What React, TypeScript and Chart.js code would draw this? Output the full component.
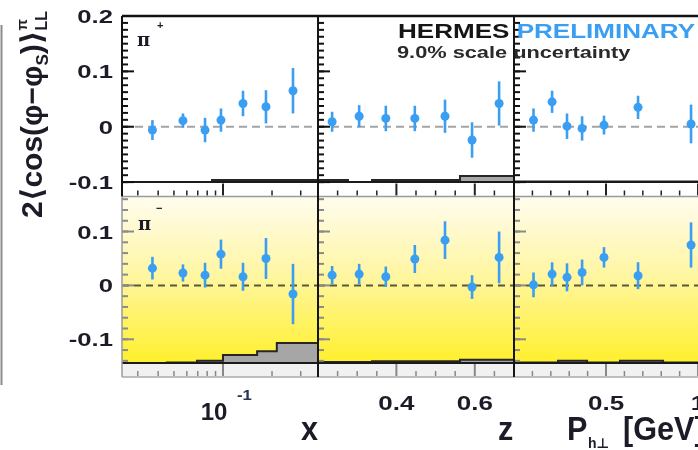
import React, { useEffect, useRef } from "react";
import { Chart, registerables } from "chart.js";
Chart.register(...registerables);

// ---------------- data ----------------
const xBins = [0.0369, 0.0568, 0.0776, 0.0972, 0.1327, 0.1836, 0.269];
const zBins = [0.236, 0.305, 0.373, 0.447, 0.524, 0.593, 0.662];
const ptBins = [0.106, 0.207, 0.288, 0.37, 0.489, 0.674, 0.962];

const piPlusX = [-0.006, 0.011, -0.006, 0.012, 0.042, 0.036, 0.065];
const piPlusXErr = [0.018, 0.013, 0.022, 0.021, 0.023, 0.03, 0.041];
const piPlusZ = [0.009, 0.019, 0.015, 0.015, 0.019, -0.024, 0.042];
const piPlusZErr = [0.018, 0.02, 0.023, 0.023, 0.03, 0.032, 0.04];
const piPlusPt = [0.012, 0.045, 0.001, -0.003, 0.003, 0.035, 0.005];
const piPlusPtErr = [0.021, 0.02, 0.023, 0.022, 0.017, 0.021, 0.035];

const piMinusX = [0.032, 0.023, 0.019, 0.058, 0.016, 0.05, -0.016];
const piMinusXErr = [0.021, 0.016, 0.023, 0.027, 0.026, 0.038, 0.056];
const piMinusZ = [0.019, 0.021, 0.016, 0.049, 0.084, -0.003, 0.052];
const piMinusZErr = [0.017, 0.019, 0.019, 0.026, 0.035, 0.022, 0.048];
const piMinusPt = [0.001, 0.021, 0.015, 0.024, 0.052, 0.018, 0.075];
const piMinusPtErr = [0.023, 0.022, 0.026, 0.024, 0.019, 0.025, 0.042];

// systematic-uncertainty histograms (bin edges + heights above the base line)
const sysXEdges = [0.024, 0.0453, 0.0693, 0.0856, 0.1, 0.162, 0.214, 0.383];
const sysPlusX = [0, 0, 0, 0.004, 0.004, 0.004, 0.004];
const sysMinusX = [0, 0.001, 0.004, 0.004, 0.015, 0.022, 0.037];
const sysZEdges = [0.2, 0.2765, 0.3378, 0.5622, 0.7];
const sysPlusZ = [0.004, 0, 0.004, 0.011];
const sysMinusZ = [0.002, 0.002, 0.003, 0.006];
const sysPtEdges = [0, 0.239, 0.397, 0.576, 0.81, 1.065];
const sysPlusPt = [0.001, 0.001, 0.001, 0.001, 0.001];
const sysMinusPt = [0.001, 0.004, 0.001, 0.004, 0.001];
const sysBaseTop = -0.1;
const sysBaseBot = -0.144;

// axis ranges and ticks
const xRange = [0.024, 0.383];
const zRange = [0.2, 0.7];
const ptRange = [0, 1.065];
const topRange = [-0.126, 0.2];
const botRange = [-0.17, 0.165];
const yLabelsTop = ["0.2", "0.1", "0", "-0.1"];
const yLabelsBot = ["0.1", "0", "-0.1"];
const yMajor = [-0.1, 0, 0.1, 0.2];
const yMinorStepTop = 0.0125;
const yMinorStepBot = 0.02;
const xMajorTicks = [0.1];
const xMinorTicks = [0.03, 0.04, 0.05, 0.06, 0.07, 0.08, 0.09, 0.2, 0.3];
const zMajorTicks = [0.4, 0.6];
const zMinorTicks = [0.25, 0.3, 0.35, 0.45, 0.5, 0.55, 0.65];
const ptMajorTicks = [0.5, 1.0];
const ptMinorTicks = [0.1, 0.2, 0.3, 0.4, 0.6, 0.7, 0.8, 0.9];
const zTickLabels = ["0.4", "0.6"];
const ptTickLabels = ["0.5", "1"];

const BLUE = "#3a9ff2";
const INK = "#1c1c28";
const FONT = '"Liberation Sans", Arial, "DejaVu Sans", sans-serif';

const panels = [
  { xs: xBins, ys: piPlusX, es: piPlusXErr, xID: "x1", yID: "yTop", edges: sysXEdges, sys: sysPlusX },
  { xs: zBins, ys: piPlusZ, es: piPlusZErr, xID: "x2", yID: "yTop", edges: sysZEdges, sys: sysPlusZ },
  { xs: ptBins, ys: piPlusPt, es: piPlusPtErr, xID: "x3", yID: "yTop", edges: sysPtEdges, sys: sysPlusPt },
  { xs: xBins, ys: piMinusX, es: piMinusXErr, xID: "x1", yID: "yBot", edges: sysXEdges, sys: sysMinusX },
  { xs: zBins, ys: piMinusZ, es: piMinusZErr, xID: "x2", yID: "yBot", edges: sysZEdges, sys: sysMinusZ },
  { xs: ptBins, ys: piMinusPt, es: piMinusPtErr, xID: "x3", yID: "yBot", edges: sysPtEdges, sys: sysMinusPt },
];

const colTicks: Record<string, { major: number[]; minor: number[] }> = {
  x1: { major: xMajorTicks, minor: xMinorTicks },
  x2: { major: zMajorTicks, minor: zMinorTicks },
  x3: { major: ptMajorTicks, minor: ptMinorTicks },
};

function txt(ctx: CanvasRenderingContext2D, s: string, x: number, y: number, size: number, color: string, align: CanvasTextAlign = "left", sx = 1) {
  ctx.save();
  ctx.font = `bold ${size}px ${FONT}`;
  ctx.fillStyle = color;
  ctx.textAlign = align;
  ctx.textBaseline = "alphabetic";
  ctx.translate(x, y);
  ctx.scale(sx, 1);
  ctx.fillText(s, 0, 0);
  ctx.restore();
}

function line(ctx: CanvasRenderingContext2D, x1: number, y1: number, x2: number, y2: number, color: string, w: number, dash: number[] = []) {
  ctx.save();
  ctx.strokeStyle = color;
  ctx.lineWidth = w;
  ctx.setLineDash(dash);
  ctx.beginPath();
  ctx.moveTo(x1, y1);
  ctx.lineTo(x2, y2);
  ctx.stroke();
  ctx.restore();
}

const panelPlugin = {
  id: "panelPlugin",
  beforeDatasetsDraw(chart: any) {
    const ctx: CanvasRenderingContext2D = chart.ctx;
    const s = chart.scales;
    const yB = s.yBot;
    const left = s.x1.left, right = s.x3.right;
    ctx.save();
    // bottom-row yellow background
    const baseB = yB.getPixelForValue(sysBaseBot);
    const g = ctx.createLinearGradient(0, yB.top, 0, baseB);
    g.addColorStop(0, "#fffcee");
    g.addColorStop(0.45, "#fff6a6");
    g.addColorStop(1, "#fff02c");
    ctx.fillStyle = g;
    ctx.fillRect(left, yB.top, right - left, baseB - yB.top);
    ctx.fillStyle = "#f1f1f1";
    ctx.fillRect(left, baseB, right - left, yB.bottom - baseB);

    // histograms + base lines
    panels.forEach((p) => {
      const xs = s[p.xID], ys = s[p.yID];
      const base = p.yID === "yTop" ? sysBaseTop : sysBaseBot;
      const by = ys.getPixelForValue(base);
      ctx.beginPath();
      ctx.moveTo(xs.getPixelForValue(p.edges[0]), by);
      p.sys.forEach((h, i) => {
        const yy = ys.getPixelForValue(base + h);
        ctx.lineTo(xs.getPixelForValue(p.edges[i]), yy);
        ctx.lineTo(xs.getPixelForValue(p.edges[i + 1]), yy);
      });
      ctx.lineTo(xs.getPixelForValue(p.edges[p.edges.length - 1]), by);
      ctx.closePath();
      ctx.fillStyle = "#a6a6a6";
      ctx.fill();
      ctx.strokeStyle = "#262626";
      ctx.lineWidth = 2;
      ctx.stroke();
      line(ctx, xs.left, by, xs.right, by, "#1a1a1a", 2);
      // zero line
      const y0 = ys.getPixelForValue(0);
      if (p.yID === "yTop") line(ctx, xs.left, y0, xs.right, y0, "#a4a4a4", 2, [8, 5]);
      else line(ctx, xs.left, y0, xs.right, y0, "rgba(60,60,50,0.85)", 2, [7, 5]);
      // error bars
      p.xs.forEach((xv, i) => {
        const px = xs.getPixelForValue(xv);
        line(ctx, px, ys.getPixelForValue(p.ys[i] - p.es[i]), px, ys.getPixelForValue(p.ys[i] + p.es[i]), BLUE, 2.6);
      });
    });
    ctx.restore();
  },
  afterDatasetsDraw(chart: any) {
    const ctx: CanvasRenderingContext2D = chart.ctx;
    const s = chart.scales;
    const yT = s.yTop, yB = s.yBot;
    const left = s.x1.left, right = s.x3.right;

    // ticks
    ["x1", "x2", "x3"].forEach((id) => {
      const xs = s[id];
      [yT, yB].forEach((ys) => {
        const top = ys === yT;
        const col = top ? "#111" : "#8a8a8a";
        const base = top ? sysBaseTop : sysBaseBot;
        const step = top ? yMinorStepTop : yMinorStepBot;
        const lo = Math.ceil(base / step - 1e-6);
        const hi = Math.floor(ys.max / step + 1e-6);
        for (let k = lo; k <= hi; k++) {
          const v = k * step;
          const py = ys.getPixelForValue(v);
          line(ctx, xs.left, py, xs.left + 6, py, col, 2);
        }
        yMajor.forEach((v) => {
          if (v < base - 1e-6 || v > ys.max) return;
          const py = ys.getPixelForValue(v);
          line(ctx, xs.left, py, xs.left + 12, py, col, 2);
        });
        const bot = ys.bottom;
        colTicks[id].minor.forEach((v) => {
          const px = xs.getPixelForValue(v);
          line(ctx, px, bot - 1, px, bot - 6, top ? "#222" : "#888", 1.5);
        });
        colTicks[id].major.forEach((v) => {
          const px = xs.getPixelForValue(v);
          line(ctx, px, bot - 1, px, bot - 13, top ? "#222" : "#888", 2);
        });
      });
    });

    // frames
    line(ctx, left, yT.top, right, yT.top, "#111", 2.5);
    line(ctx, left, yT.bottom, right, yT.bottom, "#9a9a9a", 1.5);
    line(ctx, left, yB.bottom, right, yB.bottom, "#aaaaaa", 1.5);
    line(ctx, left, yT.top, left, yT.bottom, "#111", 2);
    line(ctx, left, yB.top, left, yB.bottom, "#9a9a9a", 1.5);
    [s.x2.left, s.x3.left].forEach((x) => line(ctx, x, yT.top, x, yB.bottom, "#151515", 2));

    // y tick labels
    yLabelsTop.forEach((t) => txt(ctx, t, 113, yT.getPixelForValue(parseFloat(t)) + 7, 19, INK, "right", 1.35));
    yLabelsBot.forEach((t) => txt(ctx, t, 113, yB.getPixelForValue(parseFloat(t)) + 7, 19, INK, "right", 1.35));

    // x tick labels
    const p01 = s.x1.getPixelForValue(xMajorTicks[0]);
    txt(ctx, "10", p01 - 9, 420, 24, INK, "center", 1);
    txt(ctx, "-1", p01 + 14, 400, 14, "#2a3350", "left", 1.2);
    zTickLabels.forEach((t) => txt(ctx, t, s.x2.getPixelForValue(parseFloat(t)), 410, 20, INK, "center", 1.3));
    ptTickLabels.forEach((t) => txt(ctx, t, s.x3.getPixelForValue(parseFloat(t)), 410, 20, INK, "center", 1.3));

    // axis titles
    txt(ctx, "x", 301, 440, 34, INK, "left", 0.9);
    txt(ctx, "z", 498, 440, 34, INK, "left", 0.9);
    txt(ctx, "P", 567, 440, 34, INK, "left", 0.9);
    txt(ctx, "h\u22a5", 588, 448, 14, INK, "left", 1);
    txt(ctx, "[GeV]", 623, 440, 34, INK, "left", 0.9);

    // pi labels
    ctx.save();
    ctx.fillStyle = INK;
    ctx.font = `bold 18px "DejaVu Serif", serif`;
    ctx.fillText("\u03c0", 137, 46);
    ctx.fillText("\u03c0", 138, 230);
    ctx.font = `bold 11px ${FONT}`;
    ctx.fillText("+", 157, 29);
    ctx.fillText("\u2212", 156, 212);
    ctx.restore();

    // HERMES PRELIMINARY
    ctx.save();
    ctx.font = `bold 21px ${FONT}`;
    ctx.translate(398, 38);
    ctx.scale(1.24, 1);
    ctx.fillStyle = "#151515";
    ctx.fillText("HERMES", 0, 0);
    const w = ctx.measureText("HERMES ").width;
    ctx.fillStyle = BLUE;
    ctx.fillText("PRELIMINARY", w, 0);
    ctx.restore();
    txt(ctx, "9.0% scale uncertainty", 397, 58, 16, "#2a2a2a", "left", 1.36);

    // y title
    ctx.save();
    ctx.translate(42, 218);
    ctx.rotate(-Math.PI / 2);
    ctx.fillStyle = INK;
    let x = 0;
    const seg = (t: string, size: number, dy = 0, adv = true) => {
      ctx.font = `bold ${size}px ${FONT}`;
      ctx.fillText(t, x, dy);
      if (adv) x += ctx.measureText(t).width;
    };
    seg("2", 30);
    seg("\u27e8", 30);
    seg("cos(", 30);
    seg("\u03c6", 30);
    seg("\u2212", 30);
    seg("\u03c6", 30);
    seg("S", 17, 6);
    seg(")", 30);
    seg("\u27e9", 30);
    seg("\u03c0", 15, -15, false);
    seg("LL", 16, 5);
    ctx.restore();

    // cropped neighbour frame at far left
    line(ctx, 1.5, 25, 1.5, 385, "#8c8c8c", 2);
  },
};

export default function App() {
  const ref = useRef<HTMLCanvasElement>(null);
  useEffect(() => {
    const datasets = panels.map((p) => ({
      data: p.xs.map((x, i) => ({ x, y: p.ys[i] })),
      xAxisID: p.xID,
      yAxisID: p.yID,
      pointRadius: 4.5,
      pointBorderWidth: 0,
      backgroundColor: BLUE,
      borderColor: BLUE,
      showLine: false,
    }));
    const hidden = { display: false, grid: { display: false }, ticks: { display: false } };
    const chart = new Chart(ref.current as HTMLCanvasElement, {
      type: "scatter",
      data: { datasets } as any,
      options: {
        responsive: false,
        maintainAspectRatio: false,
        devicePixelRatio: 1,
        animation: false,
        events: [],
        layout: { padding: { left: 122, right: 10, top: 16, bottom: 73 }, autoPadding: false },
        plugins: { legend: { display: false }, tooltip: { enabled: false } },
        scales: {
          x1: { ...hidden, type: "logarithmic", position: "bottom", stack: "cols", stackWeight: 1, min: xRange[0], max: xRange[1] },
          x2: { ...hidden, type: "linear", position: "bottom", stack: "cols", stackWeight: 1, min: zRange[0], max: zRange[1] },
          x3: { ...hidden, type: "linear", position: "bottom", stack: "cols", stackWeight: 1, min: ptRange[0], max: ptRange[1] },
          yBot: { ...hidden, type: "linear", position: "left", stack: "rows", stackWeight: 1, weight: 0, min: botRange[0], max: botRange[1] },
          yTop: { ...hidden, type: "linear", position: "left", stack: "rows", stackWeight: 1, weight: 1, min: topRange[0], max: topRange[1] },
        },
      } as any,
      plugins: [panelPlugin],
    });
    return () => chart.destroy();
  }, []);
  return (
    <div style={{ position: "absolute", left: 0, top: 0, width: 698, height: 450, overflow: "hidden", background: "#fff" }}>
      <canvas ref={ref} width={720} height={450} style={{ display: "block", width: 720, height: 450 }} />
    </div>
  );
}
